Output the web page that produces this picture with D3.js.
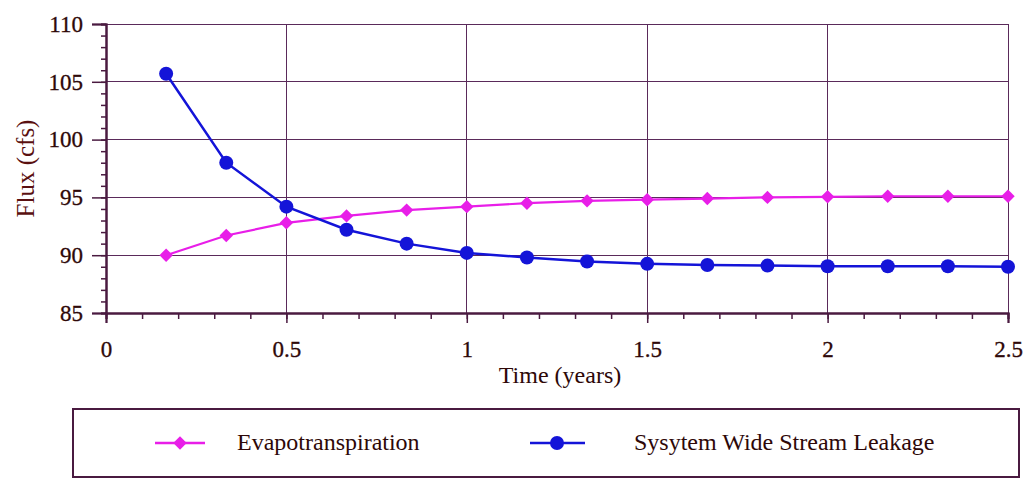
<!DOCTYPE html>
<html>
<head>
<meta charset="utf-8">
<script src="https://d3js.org/d3.v7.min.js"></script>
<style>
body { margin: 0; background: #fff; }
svg text { font-family: "Liberation Serif", "Times New Roman", serif !important; }
.grid line { stroke: #5a2a5a; stroke-width: 1; shape-rendering: crispEdges; }
</style>
</head>
<body>
<script>
// time in years, one point every two months
var times = [1/6, 2/6, 3/6, 4/6, 5/6, 1, 7/6, 8/6, 9/6, 10/6, 11/6, 2, 13/6, 14/6, 2.5];
var evapo = [90.0, 91.7, 92.8, 93.4, 93.9, 94.2, 94.5, 94.7, 94.8, 94.9, 95.0, 95.05, 95.1, 95.1, 95.1];
var leakage = [105.7, 98.0, 94.2, 92.2, 91.0, 90.2, 89.8, 89.45, 89.25, 89.15, 89.1, 89.05, 89.05, 89.05, 89.0];
var xTicks = [0, 0.5, 1, 1.5, 2, 2.5];
var yTicks = [85, 90, 95, 100, 105, 110];
var seriesNames = ["Evapotranspiration", "Sysytem Wide Stream Leakage"];

var W = 1024, H = 481;
var svg = d3.select("body").append("svg").attr("width", W).attr("height", H);

var x = d3.scaleLinear().domain([0, 2.5]).range([106, 1008]);
var y = d3.scaleLinear().domain([85, 110]).range([313, 24]);
var axisColor = "#4a1a40";
var textColor = "#2e0808";

// grid lines
svg.append("g").attr("class", "grid")
  .selectAll("line").data(xTicks.slice(1)).enter().append("line")
  .attr("x1", d => x(d)).attr("x2", d => x(d))
  .attr("y1", y(110)).attr("y2", y(85));
svg.append("g").attr("class", "grid")
  .selectAll("line").data(yTicks.slice(1)).enter().append("line")
  .attr("x1", x(0)).attr("x2", x(2.5))
  .attr("y1", d => y(d)).attr("y2", d => y(d));

// y axis
var yAxis = svg.append("g").attr("transform", "translate(" + x(0) + ",0)")
  .call(d3.axisLeft(y).tickValues(d3.range(85, 110.5, 1)).tickSize(5).tickFormat(""));
var yMajor = svg.append("g").attr("transform", "translate(" + x(0) + ",0)")
  .call(d3.axisLeft(y).tickValues(yTicks).tickSize(14).tickPadding(9).tickFormat(d3.format("d")));

// x axis
var xAxis = svg.append("g").attr("transform", "translate(0," + y(85) + ")")
  .call(d3.axisBottom(x).tickValues(d3.range(0, 2.51, 0.1)).tickSize(6).tickFormat(""));
var xMajor = svg.append("g").attr("transform", "translate(0," + y(85) + ")")
  .call(d3.axisBottom(x).tickValues(xTicks).tickSize(10).tickPadding(18).tickFormat(d => d));

[yAxis, yMajor, xAxis, xMajor].forEach(function(g) {
  g.attr("font-family", null);
  g.selectAll("path").attr("stroke", axisColor).attr("stroke-width", 2);
  g.selectAll("line").attr("stroke", axisColor).attr("stroke-width", 1.5);
  g.selectAll("text").attr("font-size", 23).attr("fill", textColor)
    .attr("stroke", textColor).attr("stroke-width", 0.3);
});

// axis titles
svg.append("text")
  .attr("transform", "translate(34," + ((y(110) + y(85)) / 2) + ") rotate(-90)")
  .attr("text-anchor", "middle").attr("font-size", 25).attr("fill", "#5a1010")
  .text("Flux (cfs)");
svg.append("text")
  .attr("x", (x(0) + x(2.5)) / 2 + 3).attr("y", 383)
  .attr("text-anchor", "middle").attr("font-size", 24).attr("fill", textColor)
  .text("Time (years)");

var pink = "#e81ee8", blue = "#1414d8";
var line = d3.line().x(d => x(d[0])).y(d => y(d[1]));
var evData = times.map((t, i) => [t, evapo[i]]);
var lkData = times.map((t, i) => [t, leakage[i]]);

svg.append("path").datum(evData).attr("d", line)
  .attr("fill", "none").attr("stroke", pink).attr("stroke-width", 2.2);
svg.append("path").datum(lkData).attr("d", line)
  .attr("fill", "none").attr("stroke", blue).attr("stroke-width", 2.5);

var diamond = d3.symbol().type(d3.symbolSquare).size(90);
svg.selectAll(".ev").data(evData).enter().append("path")
  .attr("transform", d => "translate(" + x(d[0]) + "," + y(d[1]) + ") rotate(45)")
  .attr("d", diamond).attr("fill", pink);
svg.selectAll(".lk").data(lkData).enter().append("circle")
  .attr("cx", d => x(d[0])).attr("cy", d => y(d[1])).attr("r", 7)
  .attr("fill", blue);

// legend
svg.append("rect").attr("x", 73).attr("y", 409).attr("width", 946).attr("height", 68)
  .attr("fill", "none").attr("stroke", axisColor).attr("stroke-width", 2);

var lg = svg.append("g");
lg.append("line").attr("x1", 155).attr("x2", 205).attr("y1", 443).attr("y2", 443)
  .attr("stroke", pink).attr("stroke-width", 2.5);
lg.append("path").attr("transform", "translate(180,443) rotate(45)").attr("d", diamond).attr("fill", pink);
lg.append("text").attr("x", 237).attr("y", 450).attr("font-size", 24).attr("fill", textColor).text(seriesNames[0]);

lg.append("line").attr("x1", 530).attr("x2", 585).attr("y1", 443).attr("y2", 443)
  .attr("stroke", blue).attr("stroke-width", 2.5);
lg.append("circle").attr("cx", 557).attr("cy", 443).attr("r", 7).attr("fill", blue);
lg.append("text").attr("x", 634).attr("y", 450).attr("font-size", 24).attr("fill", textColor).text(seriesNames[1]);
</script>
</body>
</html>
